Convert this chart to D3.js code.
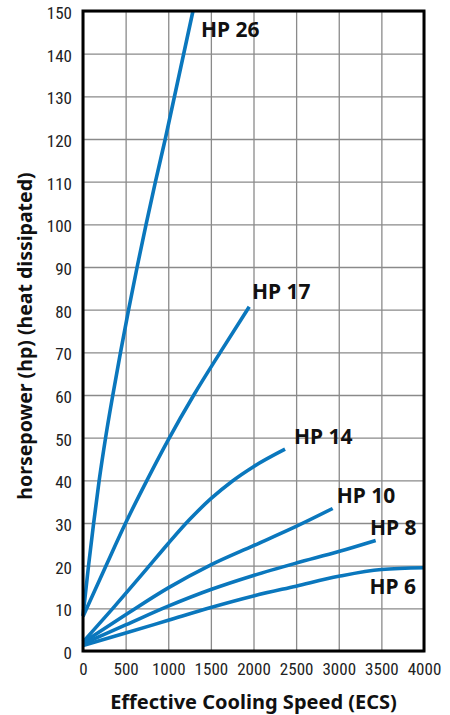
<!DOCTYPE html>
<html>
<head>
<meta charset="utf-8">
<script src="https://cdn.jsdelivr.net/npm/d3@7"></script>
<style>
  body { margin: 0; background: #fff; }
</style>
</head>
<body>
<script>

// axis ticks
var ecsTicks = d3.range(0, 4001, 500);
var hpTicks = d3.range(0, 151, 10);

// curves (ECS -> hp)
var hp26Ecs = [0, 65, 125, 190, 265, 350, 440, 535, 635, 740, 850, 965, 1290];
var hp26Val = [8.3, 20, 30, 40, 50, 60, 70, 80, 90, 100, 110, 120, 150];

var hp17Ecs = [0, 270, 500, 750, 1000, 1300, 1610, 1950];
var hp17Val = [8.1, 20, 30, 40, 49.5, 60, 70, 80.7];

var hp14Ecs = [0, 350, 750, 1000, 1250, 1500, 1750, 2000, 2370];
var hp14Val = [2.1, 10, 19.3, 25.2, 30.8, 35.7, 39.8, 43.2, 47.3];

var hp10Ecs = [0, 500, 1000, 1500, 2000, 2500, 2929];
var hp10Val = [2, 8.5, 14.8, 20.2, 24.7, 29.2, 33.4];

var hp8Ecs = [0, 500, 1000, 1500, 2000, 2500, 3000, 3433];
var hp8Val = [1.7, 6.1, 10.5, 14.4, 17.7, 20.6, 23.3, 25.9];

var hp6Ecs = [0, 500, 1000, 1500, 2000, 2500, 3000, 3500, 4000];
var hp6Val = [1.3, 4.2, 7.2, 10.2, 12.9, 15.2, 17.5, 19.1, 19.5];

// label names and where they sit (in chart units)
var seriesNames = ['HP 26', 'HP 17', 'HP 14', 'HP 10', 'HP 8', 'HP 6'];
var labelEcs = [1384, 1982, 2475, 2976, 3367, 3360];
var labelHp = [143.9, 82.5, 48.5, 34.8, 27.3, 13.3];

var svgWidth = 450;
var svgHeight = 715;
var plotLeft = 83, plotRight = 424, plotTop = 11, plotBottom = 651;

var svg = d3.select('body').append('svg')
  .attr('width', svgWidth)
  .attr('height', svgHeight);

var x = d3.scaleLinear().domain([0, 4000]).range([plotLeft, plotRight]);
var y = d3.scaleLinear().domain([0, 150]).range([plotBottom, plotTop]);

// grid
svg.append('g')
  .attr('transform', 'translate(0,' + plotBottom + ')')
  .call(d3.axisBottom(x).tickValues(ecsTicks).tickSize(-(plotBottom - plotTop)).tickFormat(''))
  .call(function (g) { g.select('.domain').remove(); })
  .selectAll('line').attr('stroke', '#8a8a8a').attr('stroke-width', 1.3);

svg.append('g')
  .attr('transform', 'translate(' + plotLeft + ',0)')
  .call(d3.axisLeft(y).tickValues(hpTicks).tickSize(-(plotRight - plotLeft)).tickFormat(''))
  .call(function (g) { g.select('.domain').remove(); })
  .selectAll('line').attr('stroke', '#8a8a8a').attr('stroke-width', 1.3);

// tick labels
var tickFont = '"Liberation Sans Narrow", "Roboto Condensed", Roboto, sans-serif';

svg.append('g')
  .attr('transform', 'translate(' + plotLeft + ',0)')
  .call(d3.axisLeft(y).tickValues(hpTicks).tickSize(0).tickPadding(11).tickFormat(d3.format('d')))
  .call(function (g) { g.select('.domain').remove(); })
  .selectAll('text')
  .attr('dy', '0.44em')
  .style('font-family', tickFont)
  .style('font-size', '17px')
  .attr('fill', '#222');

svg.append('g')
  .attr('transform', 'translate(0,' + plotBottom + ')')
  .call(d3.axisBottom(x).tickValues(ecsTicks).tickSize(0).tickPadding(12).tickFormat(d3.format('d')))
  .call(function (g) { g.select('.domain').remove(); })
  .selectAll('text')
  .style('font-family', tickFont)
  .style('font-size', '17px')
  .attr('fill', '#222');

// curves
var lineGen = d3.line()
  .x(function (d) { return x(d[0]); })
  .y(function (d) { return y(d[1]); })
  .curve(d3.curveMonotoneX);

var allSeries = [
  d3.zip(hp26Ecs, hp26Val),
  d3.zip(hp17Ecs, hp17Val),
  d3.zip(hp14Ecs, hp14Val),
  d3.zip(hp10Ecs, hp10Val),
  d3.zip(hp8Ecs, hp8Val),
  d3.zip(hp6Ecs, hp6Val)
];

svg.selectAll('path.curve')
  .data(allSeries)
  .enter()
  .append('path')
  .attr('class', 'curve')
  .attr('d', lineGen)
  .attr('fill', 'none')
  .attr('stroke', '#0a77bd')
  .attr('stroke-width', 3.6);

// frame on top
svg.append('rect')
  .attr('x', plotLeft)
  .attr('y', plotTop)
  .attr('width', plotRight - plotLeft)
  .attr('height', plotBottom - plotTop)
  .attr('fill', 'none')
  .attr('stroke', '#000')
  .attr('stroke-width', 3);

// series labels
svg.selectAll('text.hp')
  .data(seriesNames)
  .enter()
  .append('text')
  .attr('class', 'hp')
  .attr('x', function (d, i) { return x(labelEcs[i]); })
  .attr('y', function (d, i) { return y(labelHp[i]); })
  .style('font-family', '"Noto Sans", sans-serif')
  .style('font-weight', 'bold')
  .style('font-size', '21px')
  .attr('fill', '#111')
  .text(function (d) { return d; });

// axis titles
svg.append('text')
  .attr('x', (plotLeft + plotRight) / 2)
  .attr('y', 709)
  .attr('text-anchor', 'middle')
  .style('font-family', '"Noto Sans", sans-serif')
  .style('font-weight', 'bold')
  .style('font-size', '20px')
  .attr('fill', '#111')
  .text('Effective Cooling Speed (ECS)');

svg.append('text')
  .attr('transform', 'translate(32,336) rotate(-90)')
  .attr('text-anchor', 'middle')
  .style('font-family', '"Noto Sans", sans-serif')
  .style('font-weight', 'bold')
  .style('font-size', '19.5px')
  .attr('fill', '#111')
  .text('horsepower (hp) (heat dissipated)');

</script>
</body>
</html>
